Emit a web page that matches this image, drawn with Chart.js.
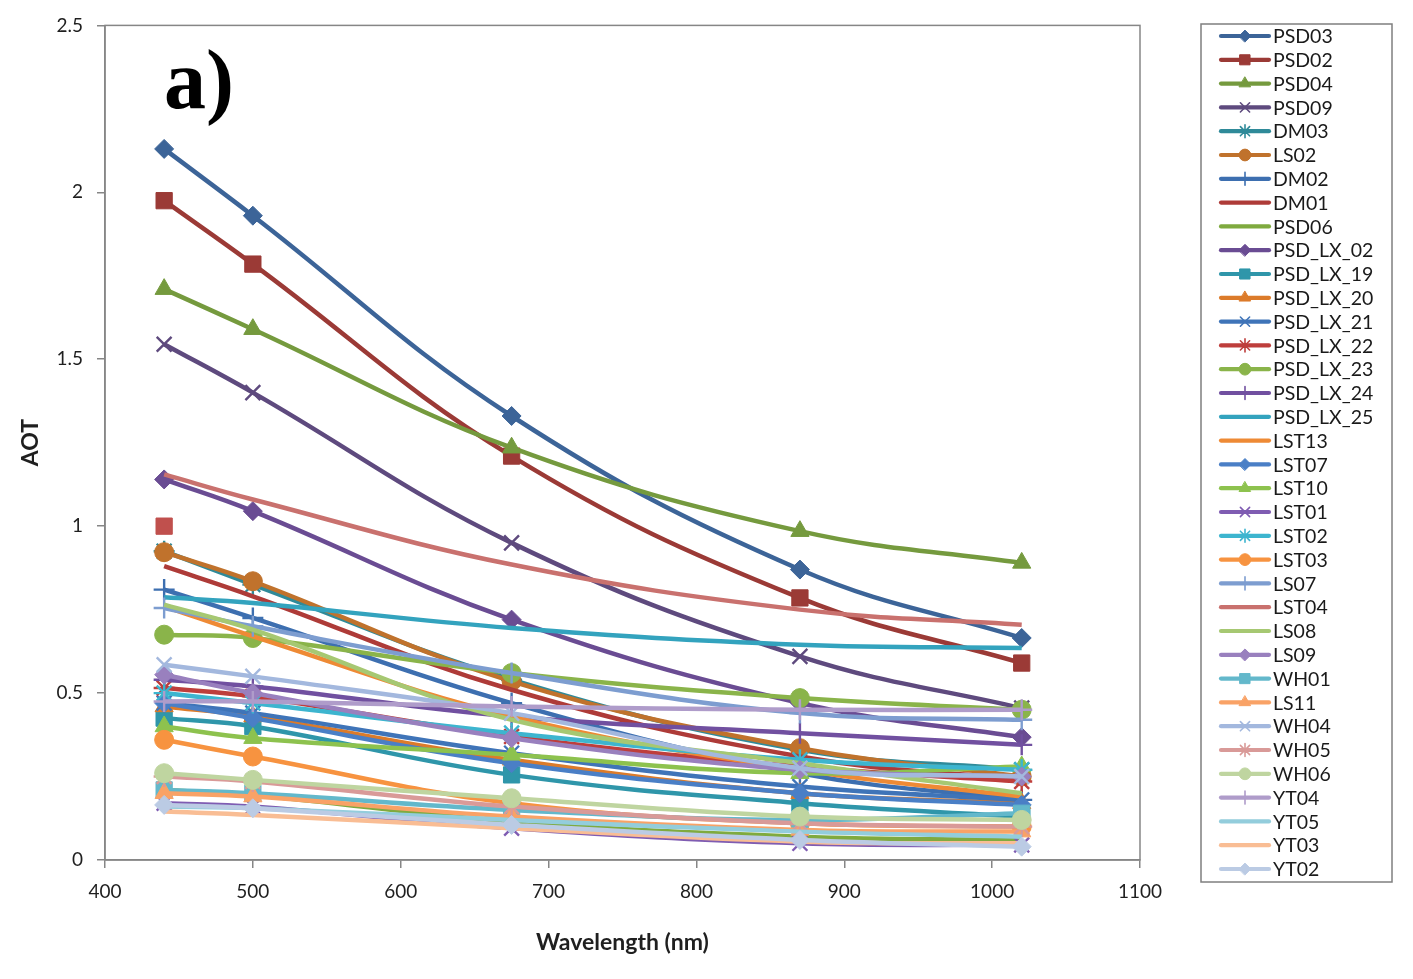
<!DOCTYPE html>
<html>
<head>
<meta charset="utf-8">
<title>AOT vs wavelength</title>
<script src="https://cdn.jsdelivr.net/npm/chart.js@4.4.1/dist/chart.umd.min.js"></script>
<style>
  html, body { margin: 0; padding: 0; background: #fff; }
  #wrap { width: 1413px; height: 979px; position: relative; }
</style>
</head>
<body>
<div id="wrap"><canvas id="chart"></canvas></div>
<script>
// wavelengths of the sun photometer channels (nm)
const wavelengths = [440, 500, 675, 870, 1020];

const seriesNames = ['PSD03', 'PSD02', 'PSD04', 'PSD09', 'DM03', 'LS02', 'DM02', 'DM01', 'PSD06',
  'PSD_LX_02', 'PSD_LX_19', 'PSD_LX_20', 'PSD_LX_21', 'PSD_LX_22', 'PSD_LX_23', 'PSD_LX_24', 'PSD_LX_25',
  'LST13', 'LST07', 'LST10', 'LST01', 'LST02', 'LST03', 'LS07', 'LST04', 'LS08', 'LS09', 'WH01', 'LS11',
  'WH04', 'WH05', 'WH06', 'YT04', 'YT05', 'YT03', 'YT02'];

// AOT values, one per wavelength
const psd03    = [2.13, 1.93, 1.33, 0.87, 0.665];
const psd02    = [1.975, 1.785, 1.21, 0.785, 0.59];
const psd04    = [1.71, 1.59, 1.235, 0.985, 0.89];
const psd09    = [1.545, 1.40, 0.95, 0.61, 0.455];
const dm03     = [0.925, 0.825, 0.54, 0.33, 0.27];
const ls02     = [0.922, 0.835, 0.535, 0.335, 0.25];
const dm02     = [0.81, 0.725, 0.47, 0.26, 0.18];
const dm01     = [0.88, 0.79, 0.51, 0.31, 0.24];
const psd06    = [0.21, 0.195, 0.115, 0.07, 0.06];
const psdLx02  = [1.14, 1.045, 0.72, 0.47, 0.368];
const psdLx19  = [0.425, 0.40, 0.255, 0.17, 0.13];
const psdLx20  = [0.46, 0.43, 0.30, 0.20, 0.17];
const psdLx21  = [0.47, 0.44, 0.32, 0.22, 0.18];
const psdLx22  = [0.515, 0.49, 0.37, 0.28, 0.235];
const psdLx23  = [0.675, 0.665, 0.56, 0.485, 0.45];
const psdLx24  = [0.54, 0.52, 0.43, 0.38, 0.345];
const psdLx25  = [0.787, 0.77, 0.695, 0.645, 0.635];
const lst13    = [0.76, 0.67, 0.43, 0.27, 0.19];
const lst07    = [0.47, 0.425, 0.29, 0.20, 0.165];
const lst10    = [0.40, 0.365, 0.315, 0.26, 0.28];
const lst01    = [0.17, 0.16, 0.095, 0.05, 0.045];
const lst02    = [0.50, 0.47, 0.38, 0.30, 0.27];
const lst03    = [0.36, 0.31, 0.17, 0.11, 0.10];
const ls07     = [0.755, 0.70, 0.56, 0.44, 0.42];
const lst04    = [1.155, 1.08, 0.885, 0.75, 0.705];
const ls08     = [0.765, 0.69, 0.42, 0.29, 0.20];
const ls09     = [0.555, 0.50, 0.365, 0.27, 0.25];
const wh01     = [0.21, 0.20, 0.15, 0.12, 0.14];
const ls11     = [0.20, 0.19, 0.13, 0.09, 0.085];
const wh04     = [0.585, 0.55, 0.44, 0.275, 0.25];
const wh05     = [0.25, 0.235, 0.16, 0.11, 0.10];
const wh06     = [0.26, 0.24, 0.185, 0.13, 0.12];
const yt04     = [0.475, 0.475, 0.46, 0.45, 0.45];
const yt05     = [0.16, 0.155, 0.12, 0.085, 0.07];
const yt03     = [0.145, 0.135, 0.095, 0.055, 0.05];
const yt02     = [0.165, 0.155, 0.105, 0.06, 0.04];

const seriesValues = [psd03, psd02, psd04, psd09, dm03, ls02, dm02, dm01, psd06,
  psdLx02, psdLx19, psdLx20, psdLx21, psdLx22, psdLx23, psdLx24, psdLx25,
  lst13, lst07, lst10, lst01, lst02, lst03, ls07, lst04, ls08, ls09, wh01, ls11,
  wh04, wh05, wh06, yt04, yt05, yt03, yt02];

// lone marker at 440 nm without a line
const strayX = [440];
const strayY = [1.0];

const yTicks = [0, 0.5, 1, 1.5, 2, 2.5];
const xTicks = [400, 500, 600, 700, 800, 900, 1000, 1100];

// styles
const seriesColors = ['#3c6498', '#9b3a36', '#759a3e', '#5e4a7e', '#2f8a99', '#c0722c', '#3d6fb0', '#ae3b38', '#7faa3f',
  '#6a4c93', '#2f96aa', '#dc7b2a', '#3f74b8', '#be3e3c', '#8ab44a', '#7150a0', '#33a3be',
  '#ee8a35', '#4a7fc6', '#8dc24e', '#7f5cb2', '#3db5cf', '#f79340', '#7d9dd0', '#c9716e', '#a6c872',
  '#9980be', '#63b8cb', '#f9a266', '#a3b8de', '#d99a98', '#bfd5a0', '#af9cca', '#93cddc', '#f9bd94', '#bbcbe4'];

const seriesMarkers = ['rectRot', 'rect', 'triangle', 'crossRot', 'star', 'circle', 'cross', false, false,
  'rectRot', 'rect', 'triangle', 'crossRot', 'star', 'circle', 'cross', false, false,
  'rectRot', 'triangle', 'crossRot', 'star', 'circle', 'cross', false, false,
  'rectRot', 'rect', 'triangle', 'crossRot', 'star', 'circle', 'cross', false, false, 'rectRot'];

const markerSize = { rectRot: 9.5, rect: 11.5, triangle: 10.5, crossRot: 10.5, star: 10.5, circle: 9.5, cross: 10.5 };

const datasets = seriesNames.map((name, i) => {
  const m = seriesMarkers[i];
  const stroked = m === 'crossRot' || m === 'star' || m === 'cross';
  return {
    label: name,
    data: wavelengths.map((w, j) => ({ x: w, y: seriesValues[i][j] })),
    borderColor: seriesColors[i],
    backgroundColor: seriesColors[i],
    borderWidth: 4.5,
    tension: 0.4,
    pointStyle: m,
    pointRadius: m ? markerSize[m] : 0,
    pointBorderWidth: stroked ? 2.4 : 1,
    pointBorderColor: seriesColors[i],
    pointBackgroundColor: seriesColors[i],
    order: -i
  };
});

datasets.push({
  label: 'stray',
  data: strayX.map((x, j) => ({ x: x, y: strayY[j] })),
  showLine: false,
  pointStyle: 'rect',
  pointRadius: 11.5,
  backgroundColor: '#c0504d',
  borderColor: '#c0504d',
  order: 10
});

function drawMarker(ctx, style, r, x, y, color) {
  ctx.save();
  ctx.fillStyle = color;
  ctx.strokeStyle = color;
  const stroked = style === 'crossRot' || style === 'star' || style === 'cross';
  ctx.lineWidth = stroked ? 1.6 : 1;
  if (Chart.helpers && Chart.helpers.drawPoint) {
    Chart.helpers.drawPoint(ctx, { pointStyle: style, radius: r, rotation: 0, borderWidth: ctx.lineWidth }, x, y);
  }
  ctx.restore();
}

const framePlugin = {
  id: 'frame',
  beforeDatasetsDraw(chart) {
    const a = chart.chartArea;
    const ctx = chart.ctx;
    ctx.save();
    ctx.strokeStyle = '#868686';
    ctx.lineWidth = 1.5;
    ctx.strokeRect(a.left, a.top, a.right - a.left, a.bottom - a.top);
    ctx.restore();
  },
  afterDraw(chart) {
    const ctx = chart.ctx;
    ctx.save();
    // panel label
    ctx.fillStyle = '#000';
    ctx.font = 'bold 84px "Liberation Serif", "DejaVu Serif", serif';
    ctx.textBaseline = 'alphabetic';
    ctx.fillText('a)', 164, 108);

    // legend
    const boxL = 1201, boxT = 24, boxR = 1392, boxB = 882;
    ctx.strokeStyle = '#7f7f7f';
    ctx.lineWidth = 1.5;
    ctx.strokeRect(boxL, boxT, boxR - boxL, boxB - boxT);
    const step = (869 - 36) / (seriesNames.length - 1);
    ctx.font = '19.5px Lato, "Open Sans", sans-serif';
    ctx.textBaseline = 'middle';
    seriesNames.forEach((name, i) => {
      const y = 36 + i * step;
      ctx.strokeStyle = seriesColors[i];
      ctx.lineWidth = 4.2;
      ctx.lineCap = 'round';
      ctx.beginPath();
      ctx.moveTo(1221, y);
      ctx.lineTo(1269, y);
      ctx.stroke();
      const m = seriesMarkers[i];
      if (m) drawMarker(ctx, m, markerSize[m] * 0.62, 1245, y, seriesColors[i]);
      ctx.fillStyle = '#1a1a1a';
      ctx.fillText(name, 1273, y + 1);
    });
    ctx.restore();
  }
};

const tickFont = { family: 'Lato, "Open Sans", sans-serif', size: 19 };
const titleFont = { family: 'Lato, "Open Sans", sans-serif', size: 23, weight: 'bold' };

new Chart(document.getElementById('chart'), {
  type: 'line',
  data: { datasets: datasets },
  plugins: [framePlugin],
  options: {
    responsive: true,
    maintainAspectRatio: false,
    animation: false,
    events: [],
    layout: { padding: { left: 0, top: 25, right: 273, bottom: 0 } },
    plugins: {
      legend: { display: false },
      tooltip: { enabled: false }
    },
    scales: {
      x: {
        type: 'linear',
        min: 400,
        max: 1100,
        afterFit: s => { s.height = 119; },
        afterBuildTicks: s => { s.ticks = xTicks.map(v => ({ value: v })); },
        grid: { drawOnChartArea: false, drawTicks: true, tickLength: 8, color: '#868686', lineWidth: 1.5 },
        border: { display: true, color: '#868686', width: 1.5 },
        ticks: { color: '#1f1f1f', font: tickFont, padding: 12, maxRotation: 0, callback: v => String(v) },
        title: { display: true, text: 'Wavelength (nm)', color: '#1f1f1f', font: titleFont, padding: { top: 0, bottom: 23 } }
      },
      y: {
        type: 'linear',
        min: 0,
        max: 2.5,
        afterFit: s => { s.width = 105; },
        afterBuildTicks: s => { s.ticks = yTicks.map(v => ({ value: v })); },
        grid: { drawOnChartArea: false, drawTicks: true, tickLength: 8, color: '#868686', lineWidth: 1.5 },
        border: { display: true, color: '#868686', width: 1.5 },
        ticks: { color: '#1f1f1f', font: tickFont, padding: 14, callback: v => String(v) },
        title: { display: true, text: 'AOT', color: '#1f1f1f', font: titleFont, padding: { top: 17, bottom: 0 } }
      }
    }
  }
});
</script>
</body>
</html>
